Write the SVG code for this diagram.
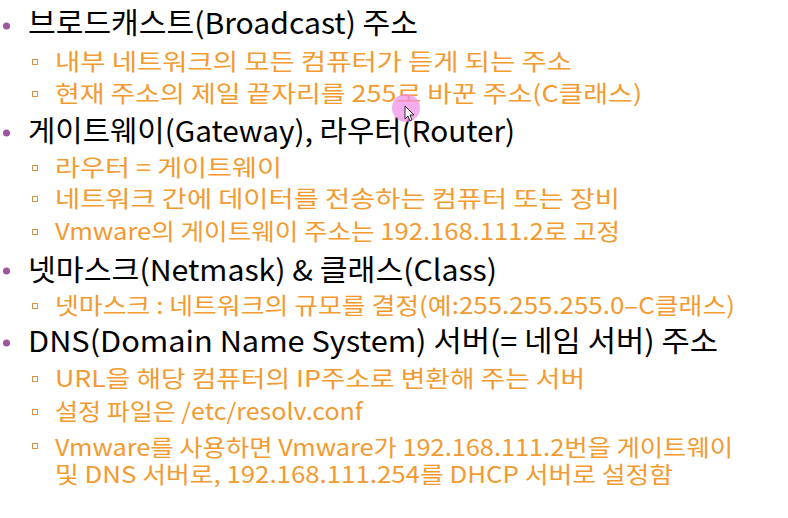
<svg xmlns="http://www.w3.org/2000/svg" width="788" height="518" viewBox="0 0 788 518">
<style>
.h{font-family:"Noto Sans CJK KR","Noto Sans",sans-serif;font-size:29px;fill:#000}
.s{font-family:"Noto Sans CJK KR","Noto Sans",sans-serif;font-size:23px;fill:#F39A30}
.dot{fill:#9E55A0}
.sq{fill:#fff;stroke:#D9944A;stroke-width:1}
</style>
<rect width="788" height="518" fill="#fff"/>
<g id="item-broadcast">
<circle class="dot" cx="6.5" cy="26" r="3.5"/>
<text class="h" x="28" y="34" textLength="390" lengthAdjust="spacingAndGlyphs">브로드캐스트(Broadcast) 주소</text>
<rect class="sq" x="32.5" y="59.5" width="5" height="5"/>
<text class="s" x="55" y="70" textLength="517" lengthAdjust="spacingAndGlyphs">내부 네트워크의 모든 컴퓨터가 듣게 되는 주소</text>
<rect class="sq" x="32.5" y="91.5" width="5" height="5"/>
<text class="s" x="55" y="102" textLength="587" lengthAdjust="spacingAndGlyphs">현재 주소의 제일 끝자리를 255로 바꾼 주소(C클래스)</text>
</g>
<g id="item-gateway">
<circle class="dot" cx="6.5" cy="133" r="3.5"/>
<text class="h" x="28" y="142" textLength="487" lengthAdjust="spacingAndGlyphs">게이트웨이(Gateway), 라우터(Router)</text>
<rect class="sq" x="32.5" y="165.5" width="5" height="5"/>
<text class="s" x="55" y="176" textLength="227" lengthAdjust="spacingAndGlyphs">라우터 = 게이트웨이</text>
<rect class="sq" x="32.5" y="196.5" width="5" height="5"/>
<text class="s" x="55" y="207" textLength="565" lengthAdjust="spacingAndGlyphs">네트워크 간에 데이터를 전송하는 컴퓨터 또는 장비</text>
<rect class="sq" x="32.5" y="229.5" width="5" height="5"/>
<text class="s" x="55" y="240" textLength="565" lengthAdjust="spacingAndGlyphs">Vmware의 게이트웨이 주소는 192.168.111.2로 고정</text>
</g>
<g id="item-netmask">
<circle class="dot" cx="6.5" cy="271" r="3.5"/>
<text class="h" x="28" y="281" textLength="469" lengthAdjust="spacingAndGlyphs">넷마스크(Netmask) &amp; 클래스(Class)</text>
<rect class="sq" x="32.5" y="303.5" width="5" height="5"/>
<text class="s" x="55" y="314" textLength="680" lengthAdjust="spacingAndGlyphs">넷마스크 : 네트워크의 규모를 결정(예:255.255.255.0–C클래스)</text>
</g>
<g id="item-dns">
<circle class="dot" cx="6.5" cy="343" r="3.5"/>
<text class="h" x="28" y="352" textLength="690" lengthAdjust="spacingAndGlyphs">DNS(Domain Name System) 서버(= 네임 서버) 주소</text>
<rect class="sq" x="32.5" y="376.5" width="5" height="5"/>
<text class="s" x="55" y="387" textLength="530" lengthAdjust="spacingAndGlyphs">URL을 해당 컴퓨터의 IP주소로 변환해 주는 서버</text>
<rect class="sq" x="32.5" y="409.5" width="5" height="5"/>
<text class="s" x="55" y="420" textLength="308" lengthAdjust="spacingAndGlyphs">설정 파일은 /etc/resolv.conf</text>
<rect class="sq" x="32.5" y="443.5" width="5" height="5"/>
<text class="s" x="55" y="456" textLength="678" lengthAdjust="spacingAndGlyphs">Vmware를 사용하면 Vmware가 192.168.111.2번을 게이트웨이</text>
<text class="s" x="55" y="483" textLength="618" lengthAdjust="spacingAndGlyphs">및 DNS 서버로, 192.168.111.254를 DHCP 서버로 설정함</text>
</g>
<g id="cursor">
<circle cx="406" cy="108" r="14" fill="#F08CE6" fill-opacity="0.7"/>
<path d="M405,106 L405,119 L408,116 L410,121 L412,120 L410,115 L414,115 Z" fill="#fff" stroke="#000" stroke-width="0.8"/>
</g>
</svg>
